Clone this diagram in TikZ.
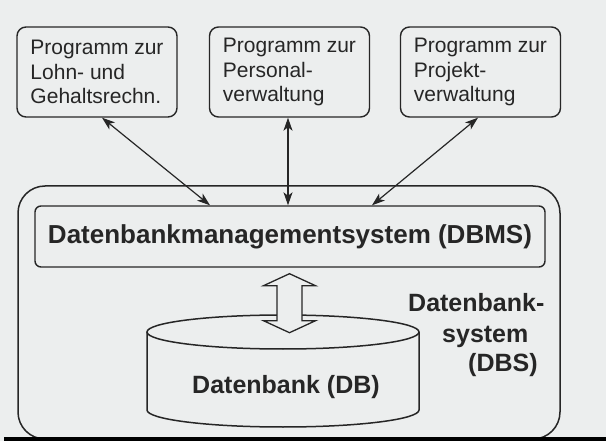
\documentclass[tikz,border=0pt]{standalone}
\usepackage{fontspec}
\setmainfont{Liberation Sans}
\usetikzlibrary{arrows.meta,calc}
\definecolor{bg}{RGB}{236,238,238}
\definecolor{ink}{RGB}{38,38,38}
\begin{document}
\begin{tikzpicture}[x=1pt,y=-1pt,
  prog/.style={draw=ink, line width=1.4pt, rounded corners=9pt, minimum width=160pt, minimum height=90pt, align=left, inner sep=0pt, font=\fontsize{21}{24.5}\selectfont, text=ink},
  dbmsbox/.style={draw=ink, line width=1.4pt, rounded corners=6pt, minimum width=510pt, minimum height=61pt, inner sep=0pt, font=\bfseries\fontsize{26}{30}\selectfont, text=ink},
  lbl/.style={font=\bfseries\fontsize{25}{30}\selectfont, text=ink, inner sep=0pt},
  conn/.style={draw=ink, line width=1.2pt, {Stealth[length=13pt,width=9pt,inset=3.5pt]}-{Stealth[length=13pt,width=9pt,inset=3.5pt]}},
  outline/.style={draw=ink, line width=1.5pt},
  hollow/.style={draw=ink, line width=1.3pt, fill=bg, line join=miter}
]
\fill[bg] (0,0) rectangle (606,441);
\useasboundingbox (0,0) rectangle (606,441);

% outer database system frame
\node[outline, rounded corners=27pt, minimum width=542pt, minimum height=253pt, inner sep=0pt] (dbs) at (289,312.5) {};

% application programs
\node[prog] (p1) at (97,72) {Programm zur\\Lohn- und\\Gehaltsrechn.};
\node[prog] (p2) at (289.5,72) {Programm zur\\Personal-\\verwaltung};
\node[prog] (p3) at (480.5,72) {Programm zur\\Projekt-\\verwaltung};

% DBMS
\node[dbmsbox] (dbms) at (290,236.5) {Datenbankmanagementsystem (DBMS)};

% database cylinder
\coordinate (cyl) at (283,332);
\draw[outline, fill=bg] (147,332) -- (147,410) arc[start angle=180, end angle=360, x radius=136pt, y radius=17pt] -- (419,332);
\draw[outline] (cyl) ellipse [x radius=136pt, y radius=17pt];
\node[lbl, anchor=base] (db) at (286,393) {Datenbank (DB)};

% hollow double arrow between DBMS and DB
\draw[hollow] ([xshift=-0.5pt,yshift=-6pt]dbms.south) -- ++(26,12) -- ++(-13.5,0) -- ++(0,35) -- ++(13.5,0) -- ++(-26,12) -- ++(-26,-12) -- ++(13.5,0) -- ++(0,-35) -- ++(-13.5,0) -- cycle;

% connectors
\draw[conn] ([xshift=5pt]p1.south) -- ([xshift=-80pt]dbms.north);
\draw[conn] ([xshift=-1.5pt]p2.south) -- ([xshift=-2pt]dbms.north);
\draw[conn] ([xshift=-2.5pt]p3.south) -- ([xshift=82pt]dbms.north);

% system label
\node[lbl, anchor=base west] (l1) at (408,312) {Datenbank-};
\node[lbl, anchor=base west] (l2) at (442,342) {system};
\node[lbl, anchor=base west] (l3) at (468,371) {(DBS)};

% dark scan edge at bottom
\fill[black] (4,437) rectangle (606,441);
\end{tikzpicture}
\end{document}
